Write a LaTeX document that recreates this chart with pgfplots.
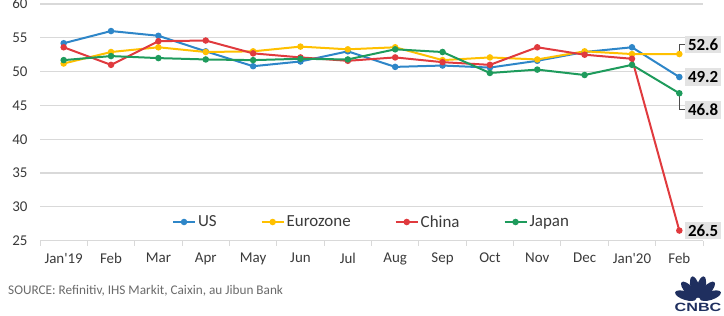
\documentclass[border=0pt]{standalone}
\usepackage{fontspec}
\setmainfont{Carlito}
\newfontfamily\logofont{Liberation Sans}
\usepackage{pgfplots}
\pgfplotsset{compat=1.18}
\definecolor{cUS}{HTML}{2E86C8}
\definecolor{cEU}{HTML}{FFC000}
\definecolor{cCN}{HTML}{E03A3E}
\definecolor{cJP}{HTML}{1E9B5C}
\definecolor{gridc}{HTML}{D9D9D9}
\definecolor{txt}{HTML}{3A3A3A}
\definecolor{lblbg}{HTML}{E3E3E3}
\definecolor{cnbc}{HTML}{1F2F5F}
\definecolor{srcc}{HTML}{6A6A6A}

\pgfplotstableread{
x US EU CN JP
0 54.2 51.2 53.6 51.7
1 56.0 52.9 51.0 52.3
2 55.3 53.6 54.5 52.0
3 53.0 52.9 54.6 51.8
4 50.8 53.0 52.7 51.7
5 51.5 53.7 52.1 51.9
6 53.0 53.3 51.6 51.8
7 50.7 53.6 52.1 53.3
8 50.9 51.7 51.4 52.9
9 50.6 52.1 51.0 49.8
10 51.6 51.8 53.6 50.3
11 52.9 53.0 52.5 49.5
12 53.6 52.6 51.9 51.0
13 49.2 52.6 26.5 46.8
}\pmidata

\begin{document}
\begin{tikzpicture}
\useasboundingbox (-40bp,-75.3bp) rectangle (684bp,240.7bp);
\begin{axis}[
  scale only axis, width=663bp, height=236.7bp,
  at={(0,0)}, anchor=south west,
  xmin=-0.5, xmax=13.5, ymin=25, ymax=60,
  xtick={0,...,13},
  xticklabels={Jan\textquotesingle19,Feb,Mar,Apr,May,Jun,Jul,Aug,Sep,Oct,Nov,Dec,Jan\textquotesingle20,Feb},
  minor xtick={-0.5,0.5,...,13.5},
  ytick={25,30,...,60},
  ymajorgrids, major grid style={gridc, line width=1.2bp},
  axis lines*=left, y axis line style={draw=none},
  x axis line style={gridc, line width=1.2bp},
  major tick length=0pt, minor tick length=5bp, tick align=outside,
  minor tick style={gridc, line width=1bp},
  ticklabel style={font=\fontsize{15}{18}\selectfont, text=txt},
  /pgf/number format/assume math mode=true,
  xticklabel style={yshift=-9bp},
  yticklabel style={xshift=-9bp},
  clip=false,
  every axis plot/.append style={line width=2bp, mark=*, mark size=2.2bp, mark options={solid}},
  legend style={at={(0.5,0.079)}, anchor=center, draw=none, fill=none,
    font=\fontsize{17}{20}\selectfont, text=txt,
    /tikz/every even column/.append style={column sep=42bp}},
  legend columns=4,
  legend image code/.code={\draw[#1, mark repeat=2, mark phase=2] plot coordinates {(0bp,0bp) (11bp,0bp) (22bp,0bp)};},
]
\addplot[cUS] table[x=x,y=US] {\pmidata};
\addlegendentry{US}
\addplot[cEU] table[x=x,y=EU] {\pmidata};
\addlegendentry{Eurozone}
\addplot[cCN] table[x=x,y=CN] {\pmidata};
\addlegendentry{China}
\addplot[cJP] table[x=x,y=JP] {\pmidata};
\addlegendentry{Japan}

\draw[gray!60!black, line width=0.8bp] ([yshift=2bp]axis cs:13,52.6) -- ([yshift=9.5bp]axis cs:13,52.6) -- ([xshift=5.5bp,yshift=9.5bp]axis cs:13,52.6);
\draw[gray!60!black, line width=0.8bp] ([yshift=-2bp]axis cs:13,46.8) -- ([yshift=-16.5bp]axis cs:13,46.8) -- ([xshift=5.5bp,yshift=-16.5bp]axis cs:13,46.8);
\tikzset{lbl/.style={fill=lblbg, inner sep=3bp, anchor=west, text=black, font=\bfseries\fontsize{17}{20}\selectfont}}
\node[lbl] at ([xshift=5.5bp,yshift=9.5bp]axis cs:13,52.6) {52.6};
\node[lbl] at ([xshift=5.5bp]axis cs:13,49.2) {49.2};
\node[lbl] at ([xshift=5.5bp,yshift=-16.5bp]axis cs:13,46.8) {46.8};
\node[lbl] at ([xshift=5.5bp]axis cs:13,26.5) {26.5};
\end{axis}
\node[anchor=west, text=srcc, font=\fontsize{13.3}{16}\selectfont, inner sep=0pt] at (-32bp,-50.3bp) {SOURCE: Refinitiv, IHS Markit, Caixin, au Jibun Bank};
\foreach \a in {18,47,76,104,133,162} {
  \fill[cnbc, shift={(658bp,-59bp)}, rotate=\a] (13bp,0) ellipse (11bp and 4.3bp);
}
\node[text=cnbc, font=\logofont\bfseries\fontsize{12}{14}\selectfont, xscale=1.35, inner sep=0pt] at (658bp,-66.5bp) {CNBC};
\end{tikzpicture}
\end{document}
